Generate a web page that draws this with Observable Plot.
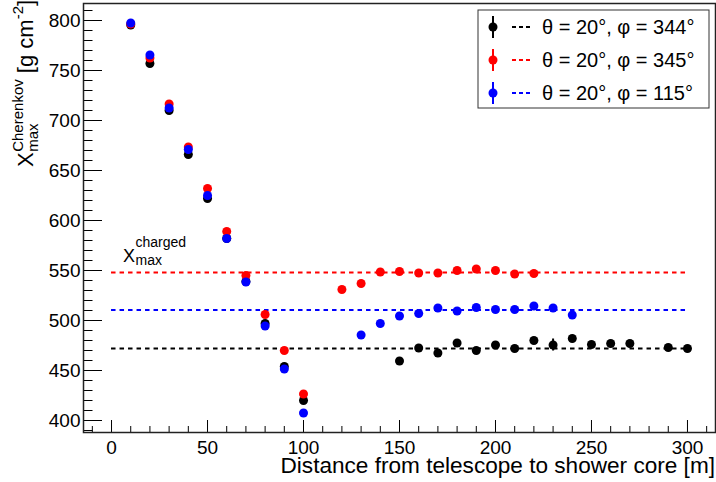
<!DOCTYPE html>
<html><head><meta charset="utf-8">
<script src="https://cdn.jsdelivr.net/npm/d3@7"></script>
<script src="https://cdn.jsdelivr.net/npm/@observablehq/plot@0.6"></script>
<style>
body{margin:0;background:#fff;}
#chart{width:716px;height:482px;}
</style>
</head><body><div id="chart"></div>
<script>
// ---------------- data ----------------
const seriesLabels = ["θ = 20°, φ = 344°", "θ = 20°, φ = 345°", "θ = 20°, φ = 115°"];

const blackDist = [10,20,30,40,50,60,70,80,90,100,150,160,170,180,190,200,210,220,230,240,250,260,270,290,300];
const blackXmax = [795.5,757,710,666,622,582,539,497,454,420,459.5,472.5,467.5,477.5,470,475.5,472,480,475.5,482,476,477,477,473,472];
const blackErr  = [2,2,2,2,2,2,2,2,2,2,2,2,2,2,2,2,2,2,6,2,2,2,2,2,2];

const redDist = [10,20,30,40,50,60,70,80,90,100,120,130,140,150,160,170,180,190,200,210,220];
const redXmax = [796.5,762.5,716.5,673.5,632,589,545,506,470,426.5,531,537,548.5,549,547.5,547.5,550,551.5,550,546.5,547];
const redErr  = [2,2,2,2,2,2,2,2,2,2,2,2,2,2,2,2,2,2,2,2,2];

const blueDist = [10,20,30,40,50,60,70,80,90,100,130,140,150,160,170,180,190,200,210,220,230,240];
const blueXmax = [797.5,765.5,712.5,671,625,582,538.5,494.5,451.5,407.5,485.5,497,504.5,507,512.5,509.5,513,511,511,514.5,512.5,505.5];
const blueErr  = [2,2,2,2,2,2,2,2,2,2,2,2,2,2,2,2,2,2,2,2,2,2];

const meanXmax = [472, 548, 510.5];   // X_max^charged per series
const meanRange = [0, 300];

const xTicksMajor = [0,50,100,150,200,250,300];
const yTicksMajor = [400,450,500,550,600,650,700,750,800];
const xTitle = "Distance from telescope to shower core [m]";

// ---------------- render ----------------
const FONT = "'Liberation Sans', Arial, Helvetica, sans-serif";
const colors = ["#000000", "#ff0000", "#0000ff"];
const W = 716, H = 482, mL = 83, mR = 1, mT = 3, mB = 50;
const plotW = W - mL - mR, plotH = H - mT - mB;

const raw = [[blackDist, blackXmax, blackErr], [redDist, redXmax, redErr], [blueDist, blueXmax, blueErr]];
const points = raw.flatMap(([xs, ys, es], i) => xs.map((x, j) => ({x, y: ys[j], e: es[j], c: colors[i], s: i})));
const means = meanXmax.map((y, i) => ({y, c: colors[i]}));

const xMinor = d3.range(-10, 311, 10).filter(v => v % 50 !== 0);
const yMinor = d3.range(390, 817, 10).filter(v => v % 50 !== 0);

const svg = Plot.plot({
  width: W, height: H,
  marginLeft: mL, marginRight: mR, marginTop: mT, marginBottom: mB,
  style: {fontFamily: FONT, fontSize: "19px", background: "white", color: "black"},
  x: {domain: [-14.6, 314.6]},
  y: {domain: [388, 817]},
  color: {type: "identity"},
  marks: [
    Plot.tickX(xTicksMajor, {x: d => d, insetTop: plotH - 12, stroke: "black", strokeWidth: 1}),
    Plot.tickX(xMinor, {x: d => d, insetTop: plotH - 6, stroke: "black", strokeWidth: 1}),
    Plot.tickY(yTicksMajor, {y: d => d, insetRight: plotW - 19, stroke: "black", strokeWidth: 1}),
    Plot.tickY(yMinor, {y: d => d, insetRight: plotW - 9.5, stroke: "black", strokeWidth: 1}),
    Plot.axisX({ticks: xTicksMajor, tickSize: 0, tickPadding: 8, fontSize: 19, label: null}),
    Plot.axisY({ticks: yTicksMajor, tickSize: 0, tickPadding: 3, fontSize: 19, label: null}),
    Plot.ruleY(means, {y: "y", x1: meanRange[0], x2: meanRange[1], stroke: "c", strokeWidth: 2, strokeDasharray: "4.5,4"}),
    Plot.ruleX(points, {x: "x", y1: d => d.y - d.e, y2: d => d.y + d.e, stroke: "c", strokeWidth: 2}),
    Plot.dot(points, {x: "x", y: "y", fill: "c", r: 4.5}),
    Plot.frame({stroke: "#222", strokeWidth: 1.5})
  ]
});
document.getElementById("chart").appendChild(svg);

const S = d3.select(svg);
function tw(sel){ return sel.node().getComputedTextLength(); }

// X axis title
S.append("text").attr("x", 715).attr("y", 473).attr("text-anchor", "end")
  .attr("font-family", FONT).attr("font-size", 22.6).attr("fill", "black").text(xTitle);

// Y axis title (rotated, with sub/superscripts)
{
  const g = S.append("g").attr("transform", "translate(33,167) rotate(-90)")
    .attr("font-family", FONT).attr("fill", "black").attr("text-anchor", "start");
  let cx = 0;
  const X = g.append("text").attr("x", 0).attr("y", 0).attr("font-size", 22).text("X");
  cx += tw(X) + 0.5;
  const sup = g.append("text").attr("x", cx).attr("y", -10).attr("font-size", 15).text("Cherenkov");
  const sub = g.append("text").attr("x", cx).attr("y", 5).attr("font-size", 15).text("max");
  cx += Math.max(tw(sup), tw(sub));
  const r1 = g.append("text").attr("x", cx).attr("y", 0).attr("font-size", 22).text("\u00a0[g cm");
  cx += tw(r1);
  const sup2 = g.append("text").attr("x", cx).attr("y", -10).attr("font-size", 15).text("-2");
  cx += tw(sup2);
  g.append("text").attr("x", cx).attr("y", 0).attr("font-size", 22).text("]");
}

// X_max^charged annotation
{
  const g = S.append("g").attr("font-family", FONT).attr("fill", "black").attr("text-anchor", "start");
  const X = g.append("text").attr("x", 123).attr("y", 262).attr("font-size", 18).text("X");
  const x0 = 123 + tw(X) + 0.5;
  g.append("text").attr("x", x0).attr("y", 247).attr("font-size", 14).text("charged");
  g.append("text").attr("x", x0).attr("y", 265).attr("font-size", 14).text("max");
}

// Legend
{
  const g = S.append("g").attr("font-family", FONT).attr("text-anchor", "start");
  g.append("rect").attr("x", 478).attr("y", 10).attr("width", 231).attr("height", 98)
    .attr("fill", "white").attr("stroke", "#333").attr("stroke-width", 1);
  const rows = [27, 60, 93];
  seriesLabels.forEach((lab, i) => {
    const y = rows[i];
    g.append("line").attr("x1", 493).attr("x2", 493).attr("y1", y - 11).attr("y2", y + 11)
      .attr("stroke", colors[i]).attr("stroke-width", 2);
    g.append("circle").attr("cx", 493).attr("cy", y).attr("r", 4.5).attr("fill", colors[i]);
    g.append("line").attr("x1", 512).attr("x2", 530).attr("y1", y).attr("y2", y)
      .attr("stroke", colors[i]).attr("stroke-width", 2).attr("stroke-dasharray", "4,3");
    g.append("text").attr("x", 542).attr("y", y).attr("dy", "0.35em").attr("font-size", 20)
      .attr("fill", "black").text(lab);
  });
}
</script>
</body></html>
